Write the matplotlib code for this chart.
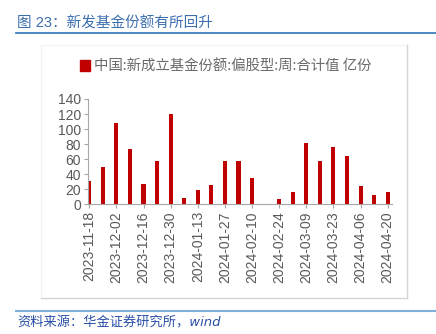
import matplotlib
matplotlib.use("Agg")
import matplotlib.pyplot as plt
from matplotlib.patches import Patch
from matplotlib.lines import Line2D

plt.rcParams['font.family'] = ['Liberation Sans', 'Noto Sans CJK SC', 'DejaVu Sans']

dates = ["2023-11-18", "2023-11-25", "2023-12-02", "2023-12-09", "2023-12-16",
         "2023-12-23", "2023-12-30", "2024-01-06", "2024-01-13", "2024-01-20",
         "2024-01-27", "2024-02-03", "2024-02-10", "2024-02-17", "2024-02-24",
         "2024-03-02", "2024-03-09", "2024-03-16", "2024-03-23", "2024-03-30",
         "2024-04-06", "2024-04-13", "2024-04-20"]
values = [31, 49, 108, 74, 27, 57, 120, 9, 19, 26, 57, 58, 35, 0, 7, 17,
          81, 57, 76, 64, 24, 13, 17]
yticks = [0, 20, 40, 60, 80, 100, 120, 140]
series_name = "中国:新成立基金份额:偏股型:周:合计值 亿份"
title = "图 23：新发基金份额有所回升"
source = "资料来源：华金证券研究所，wind"

W, H = 436, 334
fig = plt.figure(figsize=(W / 100, H / 100), dpi=100)

def fx(px):
    return px / W

def fy(py):
    return 1 - py / H

# title and rules
fig.text(fx(17), fy(23), title, color="#3b6fae", fontsize=10.5,
         family=['Liberation Sans', 'Noto Sans CJK SC'], va="center", ha="left")
fig.add_artist(Line2D([fx(16), fx(436)], [fy(33.3), fy(33.3)], color="#3f7fc0", lw=1.3))
fig.add_artist(Line2D([fx(16), fx(436)], [fy(310.7), fy(310.7)], color="#7fb0dc", lw=1.5))
fig.text(fx(17), fy(322.5), source, color="#2a4fa8", fontsize=9.5, style="italic",
         family=['DejaVu Sans', 'Noto Sans CJK SC'], va="center", ha="left")

# chart box
fig.add_artist(Line2D([fx(41), fx(406.7)], [fy(45), fy(45)], color="#f2f2f2", lw=0.8))
fig.add_artist(Line2D([fx(41), fx(41)], [fy(45), fy(298.3)], color="#f2f2f2", lw=0.8))
fig.add_artist(Line2D([fx(406.7), fx(406.7)], [fy(45), fy(298.3)], color="#d4d4d4", lw=1.0))
fig.add_artist(Line2D([fx(41), fx(406.7)], [fy(298.3), fy(298.3)], color="#d4d4d4", lw=1.0))

# axes
left_px, right_px = 87.9, 391.8
top_px, bot_px = 99.0, 204.3
ax = fig.add_axes([fx(left_px), fy(bot_px), fx(right_px - left_px), (bot_px - top_px) / H])
x = list(range(len(dates)))
ax.bar(x, values, width=0.3, color="#c00000")
ax.set_xlim(-0.1, len(dates) - 1 + 0.3)
ax.set_ylim(0, 140)
ax.set_yticks(yticks)
ax.set_yticklabels([str(v) for v in yticks])
ax.set_xticks(x[::2])
ax.set_xticklabels(dates[::2], rotation=90)
for s in ["top", "right"]:
    ax.spines[s].set_visible(False)
for s in ["left", "bottom"]:
    ax.spines[s].set_color("#a6a6a6")
    ax.spines[s].set_linewidth(0.8)
ax.tick_params(axis="both", colors="#a6a6a6", labelcolor="#595959", labelsize=10,
               length=3, width=0.8, direction="out", pad=2)
ax.patch.set_alpha(0)

# legend
fig.legend(handles=[Patch(facecolor="#c00000", edgecolor="#c00000")], labels=[series_name],
           loc="center left", bbox_to_anchor=(fx(72.5), fy(66.5)), frameon=False,
           handlelength=0.72, handleheight=0.72, handletextpad=0.25, borderpad=0,
           prop={"family": ['Noto Sans CJK SC', 'DejaVu Sans'], "size": 10.4}, labelcolor="#6b6b6b")

fig.savefig("out.png", dpi=100)
